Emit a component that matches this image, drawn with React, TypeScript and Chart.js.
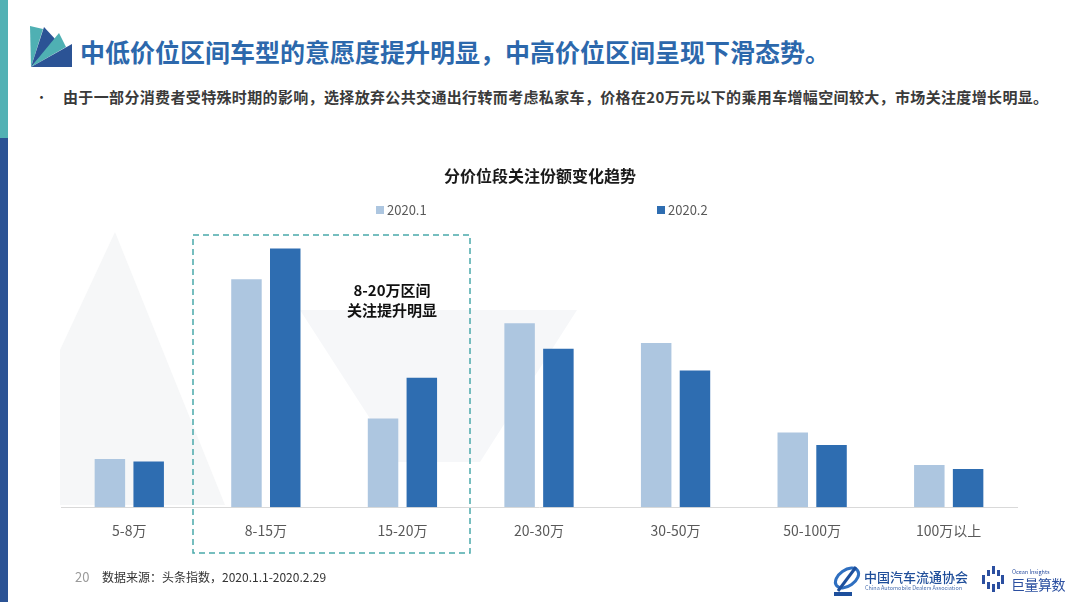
import React, { useEffect, useRef } from "react";
import { Chart, registerables } from "chart.js";

Chart.register(...registerables);

// ---- data ----
const categories = ["5-8万", "8-15万", "15-20万", "20-30万", "30-50万", "50-100万", "100万以上"];
const seriesNames = ["2020.1", "2020.2"];
const share2020_1 = [5.8, 27.5, 10.7, 22.2, 19.8, 9.0, 5.1];
const share2020_2 = [5.5, 31.2, 15.6, 19.1, 16.5, 7.5, 4.6];
const yMax = 35;

const titleText = "中低价位区间车型的意愿度提升明显，中高价位区间呈现下滑态势。";
const bulletText =
  "由于一部分消费者受特殊时期的影响，选择放弃公共交通出行转而考虑私家车，价格在20万元以下的乘用车增幅空间较大，市场关注度增长明显。";
const chartTitle = "分价位段关注份额变化趋势";
const noteLines = ["8-20万区间", "关注提升明显"];
const sourceText = "数据来源：头条指数，2020.1.1-2020.2.29";

const LIGHT = "#adc6e0";
const DARK = "#2e6db1";
const FONT = '"Noto Sans CJK SC", "Noto Sans", sans-serif';

const abs = (extra: React.CSSProperties): React.CSSProperties => ({
  position: "absolute",
  whiteSpace: "nowrap",
  fontFamily: FONT,
  ...extra,
});

export default function App() {
  const canvasRef = useRef<HTMLCanvasElement | null>(null);

  useEffect(() => {
    if (!canvasRef.current) return;
    const chart = new Chart(canvasRef.current, {
      type: "bar",
      data: {
        labels: categories,
        datasets: [
          {
            label: seriesNames[0],
            data: share2020_1,
            backgroundColor: LIGHT,
            categoryPercentage: 0.568,
            barPercentage: 0.786,
          },
          {
            label: seriesNames[1],
            data: share2020_2,
            backgroundColor: DARK,
            categoryPercentage: 0.568,
            barPercentage: 0.786,
          },
        ],
      },
      options: {
        responsive: false,
        animation: false,
        devicePixelRatio: 1,
        layout: { padding: { left: 61, right: 63, top: 217, bottom: 56 } },
        plugins: {
          legend: { display: false },
          tooltip: { enabled: false },
          title: { display: false },
        },
        scales: {
          x: {
            grid: { display: false },
            border: { display: true, color: "#d9d9d9", width: 1 },
            ticks: {
              color: "#595959",
              font: { family: FONT, size: 14 },
              padding: 7,
              maxRotation: 0,
              autoSkip: false,
            },
          },
          y: { display: false, min: 0, max: yMax },
        },
      },
    });
    return () => chart.destroy();
  }, []);

  return (
    <div
      style={{
        position: "absolute",
        left: 0,
        top: 0,
        width: 1080,
        height: 602,
        overflow: "hidden",
        background: "#ffffff",
      }}
    >
      {/* faint background shapes */}
      <svg width={1080} height={602} style={{ position: "absolute", left: 0, top: 0 }}>
        <polygon points="60,350 115,232 225,505 60,505" fill="#f6f7f8" />
        <polygon points="300,310 577,310 480,462 398,462" fill="#f6f7f9" />
      </svg>

      {/* left stripe */}
      <div style={{ position: "absolute", left: 0, top: 0, width: 8, height: 138, background: "#52b1b4" }} />
      <div style={{ position: "absolute", left: 0, top: 138, width: 8, height: 464, background: "#2b5395" }} />

      {/* top-left logo */}
      <svg width={100} height={80} style={{ position: "absolute", left: 0, top: 0 }}>
        <polygon points="31,67 30,26 43,29" fill="#4fb0b3" />
        <polygon points="31,67 44,27 56,40" fill="#2b5395" />
        <polygon points="31,67 59,33 66,47" fill="#4fb0b3" />
        <polygon points="31,67 72,44 72,67" fill="#2b5395" />
      </svg>

      {/* main title */}
      <div style={abs({ left: 80, top: 35, fontSize: 25, lineHeight: "33px", fontWeight: 700, color: "#2c68ac" })}>
        {titleText}
      </div>

      {/* bullet */}
      <div style={abs({ left: 35, top: 88, fontSize: 13, lineHeight: "18px", color: "#333" })}>•</div>
      <div style={abs({ left: 63, top: 87, fontSize: 15, lineHeight: "20px", fontWeight: 700, color: "#3a3a3a", letterSpacing: 0.35 })}>
        {bulletText}
      </div>

      <canvas ref={canvasRef} width={1080} height={602} style={{ position: "absolute", left: 0, top: 0 }} />

      {/* chart title */}
      <div style={abs({ left: 340, width: 400, textAlign: "center", top: 164, fontSize: 16, lineHeight: "22px", fontWeight: 700, color: "#1a1a1a" })}>
        {chartTitle}
      </div>

      {/* legend */}
      <div style={{ position: "absolute", left: 376, top: 206, width: 8, height: 8, background: LIGHT }} />
      <div style={abs({ left: 387, top: 201, fontSize: 13, lineHeight: "18px", color: "#595959" })}>{seriesNames[0]}</div>
      <div style={{ position: "absolute", left: 657, top: 206, width: 8, height: 8, background: DARK }} />
      <div style={abs({ left: 668, top: 201, fontSize: 13, lineHeight: "18px", color: "#595959" })}>{seriesNames[1]}</div>

      {/* dashed highlight box */}
      <svg width={1080} height={602} style={{ position: "absolute", left: 0, top: 0, pointerEvents: "none" }}>
        <rect x={193} y={235} width={277} height={318} fill="none" stroke="#4aa9ab" strokeWidth={1.5} strokeDasharray="6 4" />
      </svg>

      {/* annotation */}
      <div style={abs({ left: 292, width: 200, textAlign: "center", top: 280, fontSize: 15, lineHeight: "20px", fontWeight: 700, color: "#111" })}>
        {noteLines[0]}
        <br />
        {noteLines[1]}
      </div>

      {/* footer */}
      <div style={abs({ left: 75, top: 568, fontSize: 13, lineHeight: "18px", color: "#9a9a9a" })}>20</div>
      <div style={abs({ left: 102, top: 569, fontSize: 12, lineHeight: "16px", color: "#333" })}>{sourceText}</div>

      {/* right logos */}
      <svg width={40} height={36} style={{ position: "absolute", left: 830, top: 563 }}>
        <ellipse cx={17} cy={15} rx={13} ry={8} fill="none" stroke="#2f6fc0" strokeWidth={3} transform="rotate(-35 17 15)" />
        <path d="M8 28 L26 4" stroke="#1d4f9c" strokeWidth={3} />
        <rect x={4} y={29} width={18} height={4} fill="#1d4f9c" />
      </svg>
      <div style={abs({ left: 864, top: 569, fontSize: 13, lineHeight: "16px", fontWeight: 500, color: "#1f4e9a" })}>
        中国汽车流通协会
      </div>
      <div style={abs({ left: 865, top: 585, fontSize: 5.5, lineHeight: "7px", color: "#4a6fb0" })}>
        China Automobile Dealers Association
      </div>
      <svg width={22} height={26} style={{ position: "absolute", left: 982, top: 566 }}>
        <rect x={0} y={9} width={3} height={9} fill="#2b4fa0" />
        <rect x={5} y={4} width={3} height={6} fill="#2b4fa0" />
        <rect x={5} y={16} width={3} height={7} fill="#2b4fa0" />
        <rect x={10} y={0} width={3} height={8} fill="#2b4fa0" />
        <rect x={10} y={18} width={3} height={8} fill="#2b4fa0" />
        <rect x={15} y={4} width={3} height={6} fill="#2b4fa0" />
        <rect x={15} y={16} width={3} height={7} fill="#2b4fa0" />
        <rect x={19} y={9} width={3} height={9} fill="#2b4fa0" />
      </svg>
      <div style={abs({ left: 1012, top: 569, fontSize: 5.5, lineHeight: "7px", color: "#2b4fa0" })}>Ocean Insights</div>
      <div style={abs({ left: 1011, top: 575, fontSize: 14, lineHeight: "18px", color: "#2b4fa0", letterSpacing: -0.5 })}>
        巨量算数
      </div>
    </div>
  );
}
